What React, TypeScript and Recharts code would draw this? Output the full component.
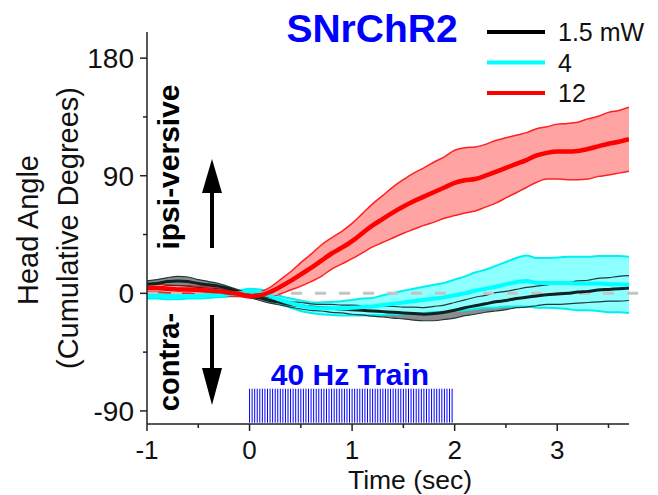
import {
  ComposedChart,
  Area,
  Line,
  XAxis,
  YAxis,
  ReferenceLine,
} from "recharts";

const FONT = "'Liberation Sans', Arial, sans-serif";
const AXIS = "#222";
const BLUE = "#0000ff";

// time (sec)
const TIME = [
  -1.0, -0.9, -0.8, -0.7, -0.6, -0.5, -0.4, -0.3, -0.2, -0.1,
  0.0, 0.1, 0.2, 0.3, 0.4, 0.5, 0.6, 0.7, 0.8, 0.9,
  1.0, 1.1, 1.2, 1.3, 1.4, 1.5, 1.6, 1.7, 1.8, 1.9,
  2.0, 2.1, 2.2, 2.3, 2.4, 2.5, 2.6, 2.7, 2.8, 2.9,
  3.0, 3.1, 3.2, 3.3, 3.4, 3.5, 3.6, 3.7,
];

// 1.5 mW
const BLACK_MEAN = [
  7, 7.5, 9, 9.5, 9, 7.5, 6.5, 5.5, 3.5, 1,
  -1.5, -3.5, -5.5, -7, -8.5, -9.5, -10.5, -11, -11.5, -12,
  -12.5, -13, -13.5, -14, -14.5, -15, -15.5, -16, -15.5, -14.5,
  -13, -11, -9.5, -8, -6.5, -5.5, -4, -3, -2, -1,
  -0.5, 0, 1, 1.5, 2.5, 3, 3.5, 4,
];
const BLACK_ERR = [
  2.5, 3, 3, 3.5, 3.5, 3, 2.5, 2, 1.5, 1.5,
  1.5, 2, 2, 2, 2, 2.5, 2.5, 2.5, 3, 3,
  3.5, 3.5, 4, 4, 4.5, 4.5, 5, 5, 5.5, 5.5,
  6, 6, 6.5, 6.5, 7, 7, 7, 7.5, 7.5, 7.5,
  8, 8, 8.5, 8.5, 9, 9, 9.5, 9.5,
];

// 4 mW
const CYAN_MEAN = [
  -2, -2, -2.5, -2.5, -2, -2, -1.5, -1, -0.5, 0,
  1.5, 0.5, -2, -5, -7.5, -9.5, -11, -11.5, -11.5, -11.5,
  -11, -10.5, -10, -9, -8, -7, -6, -5, -4, -3,
  -1.5, 0, 2, 3.5, 5, 7, 8.5, 9.5, 8, 8,
  8, 8, 7.5, 7.5, 7.5, 7, 7, 6.5,
];
const CYAN_ERR = [
  2, 2, 2, 2, 2, 2, 2, 2, 2, 2,
  2, 2.5, 3, 3, 3.5, 4, 4, 4.5, 5, 5.5,
  6, 6.5, 6.5, 7.5, 8, 9, 9.5, 10, 10.5, 11,
  12, 13, 14, 14.5, 16, 17, 18.5, 19.5, 19, 19,
  19.5, 20, 20.5, 20.5, 21, 21.5, 21.5, 21.5,
];

// 12 mW
const RED_MEAN = [
  4, 4, 3.5, 3, 3, 2.5, 2, 1.5, 0.5, -0.5,
  -2, -1.5, 1, 5, 9.5, 14.5, 19.5, 25, 30.5, 35,
  40, 46, 52, 57, 62, 66.5, 70.5, 74, 77.5, 81,
  84.5, 86.5, 87.5, 90, 93, 96, 99, 102, 105.5, 107.5,
  108.5, 108.5, 109, 110.5, 112.5, 114.5, 116, 118,
];
const RED_ERR = [
  3, 3, 3, 3, 3, 3, 3, 2.5, 2.5, 2,
  1.5, 2.5, 3.5, 5.5, 7, 9, 10.5, 12, 12, 12.5,
  13.5, 15, 16.5, 18, 19.5, 20.5, 21.5, 22, 23, 23.5,
  25, 25, 24.5, 24, 24, 23, 22, 21, 20.5, 20,
  21, 21.5, 22, 23, 23, 24, 24, 24.5,
];

const X_TICKS = [-1, -0.5, 0, 0.5, 1, 1.5, 2, 2.5, 3, 3.5];
const Y_TICKS = [-90, -45, 0, 45, 90, 135, 180];

const LEGEND = [
  { label: "1.5 mW", color: "#000000" },
  { label: "4", color: "#00ffff" },
  { label: "12", color: "#ff0000" },
];

// 40 Hz light train, 2 s long
const TRAIN_HZ = 40;
const TRAIN_SEC = 2;
const PULSES = Array.from({ length: TRAIN_HZ * TRAIN_SEC }, (_, i) => i / TRAIN_HZ);

const data = TIME.map((t, i) => ({
  t,
  black: BLACK_MEAN[i],
  blackBand: [BLACK_MEAN[i] - BLACK_ERR[i], BLACK_MEAN[i] + BLACK_ERR[i]],
  cyan: CYAN_MEAN[i],
  cyanBand: [CYAN_MEAN[i] - CYAN_ERR[i], CYAN_MEAN[i] + CYAN_ERR[i]],
  red: RED_MEAN[i],
  redBand: [RED_MEAN[i] - RED_ERR[i], RED_MEAN[i] + RED_ERR[i]],
}));

function XTick(props: any) {
  const { x, y, payload } = props;
  const major = Number.isInteger(payload.value);
  return (
    <g>
      <line x1={x} x2={x} y1={y} y2={y + (major ? 7 : 4)} stroke={AXIS} strokeWidth={1.5} />
      {major && (
        <text x={x} y={y + 35} textAnchor="middle" fontSize={26} fontFamily={FONT} fill="#111">
          {payload.value}
        </text>
      )}
    </g>
  );
}

function YTick(props: any) {
  const { x, y, payload } = props;
  const major = payload.value % 90 === 0;
  return (
    <g>
      <line x1={x - (major ? 7 : 4)} x2={x} y1={y} y2={y} stroke={AXIS} strokeWidth={1.5} />
      {major && (
        <text x={x - 13} y={y + 10} textAnchor="end" fontSize={28} fontFamily={FONT} fill="#111">
          {payload.value}
        </text>
      )}
    </g>
  );
}

export default function App() {
  return (
    <div style={{ position: "absolute", left: 0, top: 0, width: 658, height: 495, background: "#fff" }}>
      <ComposedChart
        width={658}
        height={495}
        data={data}
        margin={{ top: 32, right: 29, bottom: 0, left: 0 }}
      >
        <XAxis
          dataKey="t"
          type="number"
          domain={[-1, 3.7]}
          ticks={X_TICKS}
          interval={0}
          height={71}
          tickSize={0}
          tickMargin={0}
          tick={<XTick />}
          stroke={AXIS}
          strokeWidth={1.5}
          allowDataOverflow
        />
        <YAxis
          type="number"
          domain={[-100, 200]}
          ticks={Y_TICKS}
          interval={0}
          width={147}
          tickSize={0}
          tickMargin={0}
          tick={<YTick />}
          stroke={AXIS}
          strokeWidth={1.5}
          allowDataOverflow
        />

        <ReferenceLine
          segment={[{ x: -1, y: 0 }, { x: 3.85, y: 0 }]}
          ifOverflow="visible"
          stroke="#c4c4c4"
          strokeWidth={3}
          strokeDasharray="11 13"
        />

        {PULSES.map((p) => (
          <ReferenceLine
            key={p}
            segment={[{ x: p, y: -73 }, { x: p, y: -99 }]}
            stroke={BLUE}
            strokeWidth={1}
          />
        ))}

        {/* error bands */}
        <Area dataKey="blackBand" type="monotone" fill="#8c8c8c" fillOpacity={1} stroke="none" isAnimationActive={false} />
        <Area dataKey="cyanBand" type="monotone" fill="#8cffff" fillOpacity={1} stroke="#00f0f0" strokeWidth={2} isAnimationActive={false} />
        <Area dataKey="redBand" type="monotone" fill="#ffa3a3" fillOpacity={1} stroke="#ff2020" strokeWidth={1.5} isAnimationActive={false} />
        <Area dataKey="blackBand" type="monotone" fill="none" stroke="#1f3a3a" strokeWidth={1.2} isAnimationActive={false} />

        {/* means */}
        <Line dataKey="black" type="monotone" stroke="#0d2222" strokeWidth={3} dot={false} isAnimationActive={false} />
        <Line dataKey="cyan" type="monotone" stroke="#00ffff" strokeWidth={4} dot={false} isAnimationActive={false} />
        <Line dataKey="red" type="monotone" stroke="#ff0000" strokeWidth={4.5} dot={false} isAnimationActive={false} />
      </ComposedChart>

      <svg
        width={658}
        height={495}
        style={{ position: "absolute", left: 0, top: 0, pointerEvents: "none" }}
        fontFamily={FONT}
      >
        <text x={372} y={42} textAnchor="middle" fontSize={39} fontWeight="bold" fill={BLUE}>
          SNrChR2
        </text>

        {LEGEND.map((l, i) => (
          <g key={l.label}>
            <line x1={487} x2={545} y1={32 + i * 30.5} y2={32 + i * 30.5} stroke={l.color} strokeWidth={4} />
            <text x={558} y={41 + i * 30.5} fontSize={25} fill="#111">
              {l.label}
            </text>
          </g>
        ))}

        <text transform="translate(38,230) rotate(-90)" textAnchor="middle" fontSize={29} fill="#111">
          Head Angle
        </text>
        <text transform="translate(78,228) rotate(-90)" textAnchor="middle" fontSize={29} fill="#111">
          (Cumulative Degrees)
        </text>

        <text transform="translate(179,167) rotate(-90)" textAnchor="middle" fontSize={30} fontWeight="bold" fill="#000">
          ipsi-versive
        </text>
        <text transform="translate(179,362) rotate(-90)" textAnchor="middle" fontSize={29} fontWeight="bold" fill="#000">
          contra-
        </text>

        <line x1={212} x2={212} y1={248} y2={190} stroke="#000" strokeWidth={4} />
        <polygon points="202,193 222,193 212,159" fill="#000" />
        <line x1={212} x2={212} y1={315} y2={372} stroke="#000" strokeWidth={4} />
        <polygon points="202,368 222,368 212,405" fill="#000" />

        <text x={350} y={385} textAnchor="middle" fontSize={30} fontWeight="bold" fill={BLUE}>
          40 Hz Train
        </text>

        <text x={410} y={489} textAnchor="middle" fontSize={26.5} fill="#111">
          Time (sec)
        </text>
      </svg>
    </div>
  );
}
